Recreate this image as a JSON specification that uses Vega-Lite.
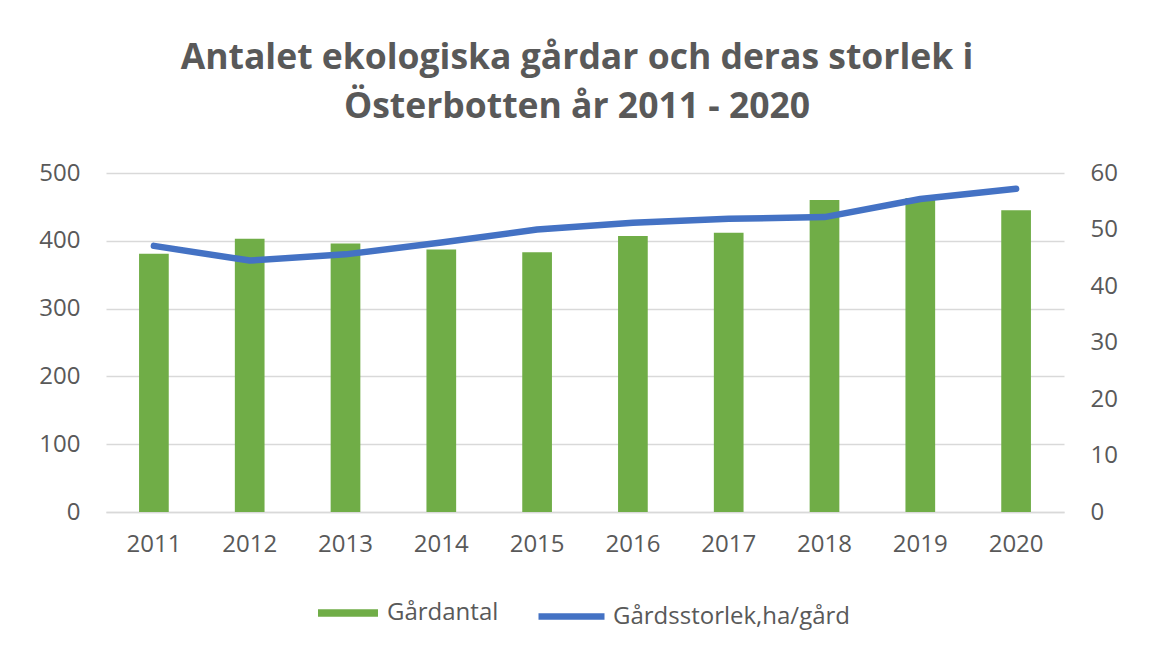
{
  "$schema": "https://vega.github.io/schema/vega-lite/v6.json",
  "autosize": "none",
  "width": 958,
  "height": 339,
  "padding": {"left": 106, "top": 173, "right": 87, "bottom": 140},
  "background": "white",
  "config": {
    "font": "Open Sans",
    "view": {"stroke": null},
    "axis": {"labelFont": "Open Sans", "labelFontSize": 24, "labelColor": "#595959", "ticks": false, "domain": false, "grid": false, "title": null}
  },
  "title": {
    "text": ["Antalet ekologiska gårdar och deras storlek i", "Österbotten år 2011 - 2020"],
    "font": "Open Sans",
    "fontSize": 35.5,
    "fontWeight": "bold",
    "color": "#595959",
    "anchor": "middle",
    "lineHeight": 49,
    "dx": -8,
    "offset": 36
  },
  "data": {
    "values": [
      {"year": "2011", "farms": 381, "size": 47.1},
      {"year": "2012", "farms": 403, "size": 44.5},
      {"year": "2013", "farms": 396, "size": 45.6},
      {"year": "2014", "farms": 387, "size": 47.7},
      {"year": "2015", "farms": 383, "size": 50.0},
      {"year": "2016", "farms": 407, "size": 51.2},
      {"year": "2017", "farms": 412, "size": 51.9},
      {"year": "2018", "farms": 460, "size": 52.2},
      {"year": "2019", "farms": 463, "size": 55.4},
      {"year": "2020", "farms": 445, "size": 57.2}
    ]
  },
  "encoding": {
    "x": {
      "field": "year",
      "type": "ordinal",
      "scale": {"paddingInner": 0.69, "paddingOuter": 0.345},
      "axis": {"labelAngle": 0, "domain": true, "domainColor": "#D9D9D9", "domainWidth": 1.5, "labelPadding": 20}
    }
  },
  "layer": [
    {
      "mark": {"type": "bar", "color": "#70AD47"},
      "encoding": {
        "y": {
          "field": "farms",
          "type": "quantitative",
          "scale": {"domain": [0, 500]},
          "axis": {"values": [0, 100, 200, 300, 400, 500], "grid": true, "gridColor": "#D9D9D9", "gridWidth": 1.5, "labelPadding": 26, "orient": "left"}
        },
        "fill": {
          "datum": "Gårdantal",
          "scale": {"range": ["#70AD47"]},
          "legend": {
            "orient": "none",
            "legendX": 212,
            "legendY": 410,
            "title": null,
            "padding": 0,
            "symbolType": "M-1,-0.125H1V0.125H-1Z",
            "symbolSize": 3600,
            "symbolStrokeWidth": 0,
            "labelFontSize": 24,
            "labelColor": "#595959",
            "labelFont": "Open Sans",
            "labelOffset": 9,
            "labelLimit": 400
          }
        }
      }
    },
    {
      "mark": {"type": "line", "strokeWidth": 6.5, "strokeCap": "round", "strokeJoin": "round"},
      "encoding": {
        "y": {
          "field": "size",
          "type": "quantitative",
          "scale": {"domain": [0, 60]},
          "axis": {"values": [0, 10, 20, 30, 40, 50, 60], "orient": "right", "labelPadding": 26}
        },
        "stroke": {
          "datum": "Gårdsstorlek,ha/gård",
          "scale": {"range": ["#4472C4"]},
          "legend": {
            "orient": "none",
            "legendX": 429,
            "legendY": 407,
            "title": null,
            "padding": 0,
            "symbolType": "stroke",
            "symbolSize": 4356,
            "symbolStrokeWidth": 6.5,
            "labelFontSize": 24,
            "labelColor": "#595959",
            "labelFont": "Open Sans",
            "labelOffset": 5,
            "labelLimit": 400
          }
        }
      }
    }
  ],
  "resolve": {"scale": {"y": "independent"}}
}
